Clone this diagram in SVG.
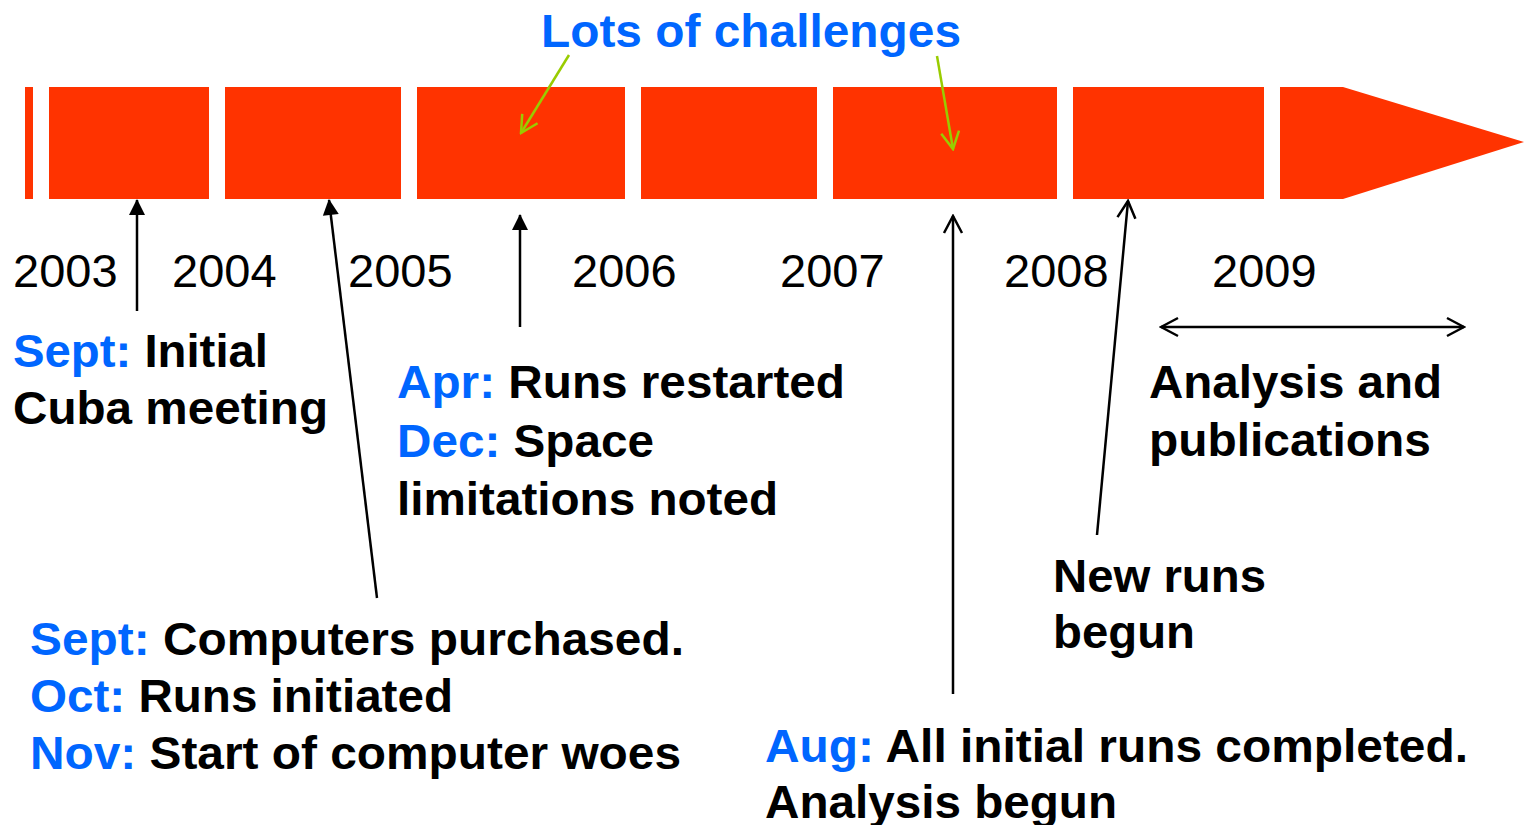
<svg xmlns="http://www.w3.org/2000/svg" width="1524" height="825" viewBox="0 0 1524 825">
<style>
.seg{fill:#FF3300}
.yr{font-family:"Liberation Sans",Arial,sans-serif;font-size:47px;fill:#000}
.t{font-family:"Liberation Sans",Arial,sans-serif;font-size:47px;font-weight:bold;fill:#000}
.b{fill:#0066FF}
.ln{stroke:#000;stroke-width:2.5;fill:none}
.gl{stroke:#99CC00;stroke-width:2.5;fill:none}
</style>
<defs>
<marker id="tri" markerUnits="userSpaceOnUse" markerWidth="20" markerHeight="20" viewBox="-18 -10 20 20" refX="0" refY="0" orient="auto">
<path d="M1,0 L-15,-8 L-15,8 Z" fill="#000"/>
</marker>
<marker id="vee" markerUnits="userSpaceOnUse" markerWidth="24" markerHeight="24" viewBox="-22 -12 24 24" refX="0" refY="0" orient="auto-start-reverse">
<path d="M-17,-9 L0,0 L-17,9" fill="none" stroke="#000" stroke-width="2.5"/>
</marker>
<marker id="gvee" markerUnits="userSpaceOnUse" markerWidth="24" markerHeight="24" viewBox="-22 -12 24 24" refX="0" refY="0" orient="auto">
<path d="M-17,-9 L0,0 L-17,9" fill="none" stroke="#99CC00" stroke-width="2.5"/>
</marker>
</defs>

<g id="timeline">
<rect class="seg" x="25" y="87" width="8" height="112"/>
<rect class="seg" x="49" y="87" width="160" height="112"/>
<rect class="seg" x="225" y="87" width="176" height="112"/>
<rect class="seg" x="417" y="87" width="208" height="112"/>
<rect class="seg" x="641" y="87" width="176" height="112"/>
<rect class="seg" x="833" y="87" width="224" height="112"/>
<rect class="seg" x="1073" y="87" width="191" height="112"/>
<polygon class="seg" points="1280,87 1343,87 1524,142 1343,199 1280,199"/>
</g>

<g id="years">
<text class="yr" x="13" y="287">2003</text>
<text class="yr" x="172" y="287">2004</text>
<text class="yr" x="348" y="287">2005</text>
<text class="yr" x="572" y="287">2006</text>
<text class="yr" x="780" y="287">2007</text>
<text class="yr" x="1004" y="287">2008</text>
<text class="yr" x="1212" y="287">2009</text>
</g>

<g id="title">
<text class="t b" x="541" y="47" textLength="420" lengthAdjust="spacingAndGlyphs">Lots of challenges</text>
</g>

<g id="n2003">
<text class="t" x="13" y="367" textLength="255" lengthAdjust="spacingAndGlyphs"><tspan class="b">Sept:</tspan> Initial</text>
<text class="t" x="13" y="424" textLength="315" lengthAdjust="spacingAndGlyphs">Cuba meeting</text>
</g>

<g id="n2004">
<text class="t" x="30" y="655" textLength="654" lengthAdjust="spacingAndGlyphs"><tspan class="b">Sept:</tspan> Computers purchased.</text>
<text class="t" x="30" y="712" textLength="423" lengthAdjust="spacingAndGlyphs"><tspan class="b">Oct:</tspan> Runs initiated</text>
<text class="t" x="30" y="769" textLength="651" lengthAdjust="spacingAndGlyphs"><tspan class="b">Nov:</tspan> Start of computer woes</text>
</g>

<g id="n2005">
<text class="t" x="397" y="398" textLength="448" lengthAdjust="spacingAndGlyphs"><tspan class="b">Apr:</tspan> Runs restarted</text>
<text class="t" x="397" y="457" textLength="257" lengthAdjust="spacingAndGlyphs"><tspan class="b">Dec:</tspan> Space</text>
<text class="t" x="397" y="515" textLength="381" lengthAdjust="spacingAndGlyphs">limitations noted</text>
</g>

<g id="n2007">
<text class="t" x="765" y="762" textLength="703" lengthAdjust="spacingAndGlyphs"><tspan class="b">Aug:</tspan> All initial runs completed.</text>
<text class="t" x="765" y="818" textLength="352" lengthAdjust="spacingAndGlyphs">Analysis begun</text>
</g>

<g id="n2008">
<text class="t" x="1053" y="592" textLength="213" lengthAdjust="spacingAndGlyphs">New runs</text>
<text class="t" x="1053" y="648" textLength="142" lengthAdjust="spacingAndGlyphs">begun</text>
</g>

<g id="n2009">
<text class="t" x="1149" y="398" textLength="293" lengthAdjust="spacingAndGlyphs">Analysis and</text>
<text class="t" x="1149" y="456" textLength="282" lengthAdjust="spacingAndGlyphs">publications</text>
</g>

<g id="connectors">
<line class="ln" x1="137" y1="311" x2="137" y2="200" marker-end="url(#tri)"/>
<line class="ln" x1="377" y1="598" x2="329" y2="200" marker-end="url(#tri)"/>
<line class="ln" x1="520" y1="327" x2="520" y2="215" marker-end="url(#tri)"/>
<line class="ln" x1="953" y1="694" x2="953" y2="216" marker-end="url(#vee)"/>
<line class="ln" x1="1097" y1="535" x2="1128" y2="201" marker-end="url(#vee)"/>
<line class="ln" x1="1161" y1="327" x2="1464" y2="327" marker-start="url(#vee)" marker-end="url(#vee)"/>
<line class="gl" x1="569" y1="55" x2="521" y2="133" marker-end="url(#gvee)"/>
<line class="gl" x1="937" y1="56" x2="953" y2="149" marker-end="url(#gvee)"/>
</g>
</svg>
